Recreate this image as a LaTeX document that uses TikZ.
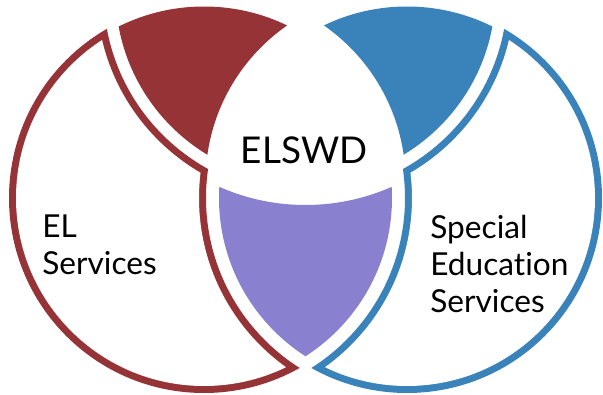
\documentclass[tikz,border=0pt]{standalone}
\usepackage{fontspec}
\setmainfont[Ligatures=NoCommon]{Lato}
\definecolor{elred}{RGB}{150,51,54}
\definecolor{sedblue}{RGB}{58,130,186}
\definecolor{bothpurple}{RGB}{137,128,208}

% everything but the disc of centre (#1,#2), radius #3
\newcommand{\cutaway}[3]{(-100,-300) -- (700,-300) -- (700,600) -- (-100,600) -- cycle
  (#1+#3,#2) arc[start angle=0,end angle=-360,radius=#3]}

\begin{document}
\begin{tikzpicture}[
                x=0.02cm,
                y=-0.02cm,
                lbl/.style={inner sep=0pt,align=left,text=black,font=\fontsize{18}{21.3}\selectfont}]

                    \useasboundingbox (0,0) rectangle (603,395);

                    % circles the pieces are cut from
                    \coordinate (CircleL) at (204,198);
                    \coordinate (CircleR) at (407,198);
                    \coordinate (CircleT) at (305.5,-8);

                    % 1 red piece
                    \begin{scope}
                      \clip (CircleL) circle (191.5);
                      \clip (CircleT) circle (190);
                      \clip \cutaway{395.5}{181.5}{190};
                      \fill[elred] (0,0) rectangle (603,395);
                    \end{scope}

                    % 2 blue piece
                    \begin{scope}
                      \clip (CircleR) circle (191.5);
                      \clip (CircleT) circle (190);
                      \clip \cutaway{215.5}{181.5}{190};
                      \fill[sedblue] (0,0) rectangle (603,395);
                    \end{scope}

                    % 3 purple piece
                    \begin{scope}
                      \clip (CircleL) circle (188);
                      \clip (CircleR) circle (188);
                      \clip \cutaway{305.5}{-8}{213};
                      \fill[bothpurple] (0,0) rectangle (603,395);
                    \end{scope}

                    % 4 EL outline
                    \begin{scope}
                      \clip \cutaway{305.5}{-8}{202};
                      \clip \cutaway{407}{198}{201};
                      \fill[elred] (CircleL) circle (195);
                    \end{scope}
                    \begin{scope}
                      \clip \cutaway{305.5}{-8}{209};
                      \clip \cutaway{407}{198}{208};
                      \fill[white] (CircleL) circle (188);
                    \end{scope}

                    % 5 special education outline
                    \begin{scope}
                      \clip \cutaway{305.5}{-8}{202};
                      \clip \cutaway{204}{198}{201};
                      \fill[sedblue] (CircleR) circle (195);
                    \end{scope}
                    \begin{scope}
                      \clip \cutaway{305.5}{-8}{209};
                      \clip \cutaway{204}{198}{208};
                      \fill[white] (CircleR) circle (188);
                    \end{scope}

                    % labels (base = last line)
                    \node[inner sep=0pt,font=\fontsize{21}{25}\selectfont] (ELSWD) at (304,150) {ELSWD};
                    \node[lbl,anchor=base west] (ELServices) at (42,275) {EL\\Services};
                    \node[lbl,anchor=base west] (SEServices) at (430,313) {Special\\Education\\Services};

\end{tikzpicture}
\end{document}
